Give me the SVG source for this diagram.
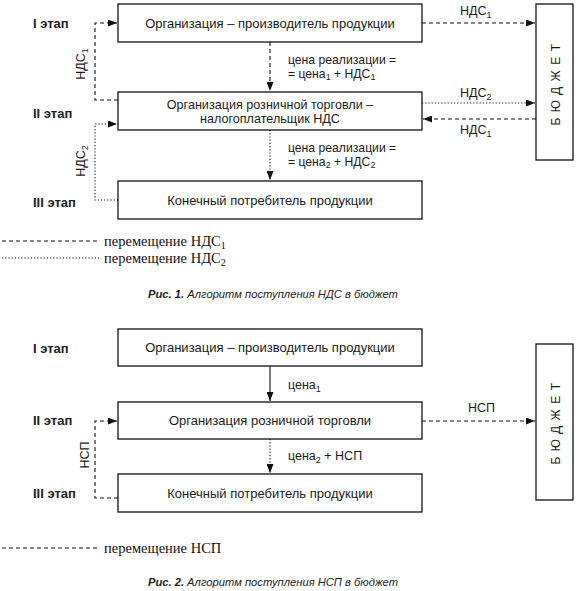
<svg xmlns="http://www.w3.org/2000/svg" width="583" height="591" viewBox="0 0 583 591">
<defs>
<marker id="ah" viewBox="0 0 10 10" refX="10" refY="5" markerWidth="9" markerHeight="7" markerUnits="userSpaceOnUse" orient="auto" preserveAspectRatio="none"><path d="M0,0 L10,5 L0,10 z" fill="#111"/></marker>
</defs>
<style>
.box{fill:#fff;stroke:#111;stroke-width:1.3}
.t{font-family:"Liberation Sans",Arial,sans-serif;font-size:13px;fill:#1a1a1a}
.t2{font-family:"Liberation Sans",Arial,sans-serif;font-size:12.6px;fill:#1a1a1a}
.s{font-family:"Liberation Sans",Arial,sans-serif;font-size:12.5px;fill:#1a1a1a}
.p{font-family:"Liberation Sans",Arial,sans-serif;font-size:12.2px;fill:#1a1a1a}
.st{font-family:"Liberation Sans",Arial,sans-serif;font-size:13px;font-weight:bold;fill:#222}
.lg{font-family:"Liberation Serif","Times New Roman",serif;font-size:14.5px;fill:#111}
.cap{font-family:"Liberation Sans",Arial,sans-serif;font-size:11.2px;font-style:italic;fill:#222}
.c{fill:none;stroke:#111;stroke-width:1.1}
.dash{stroke-dasharray:4 3}
.dot{stroke-dasharray:1.2 2}
.bud{font-family:"Liberation Sans",Arial,sans-serif;font-size:12px;letter-spacing:5.5px;fill:#1a1a1a}
</style>
<rect width="583" height="591" fill="#fff"/>

<!-- Diagram 1 -->
<g id="stages1">
<text class="st" x="33" y="28">I этап</text>
<text class="st" x="33" y="118">II этап</text>
<text class="st" x="33" y="207">III этап</text>
</g>
<g id="d1-producer"><rect class="box" x="118" y="4" width="304" height="38"/><text class="t" x="270" y="28" text-anchor="middle">Организация – производитель продукции</text></g>
<g id="d1-retail"><rect class="box" x="118" y="92" width="304" height="38"/><text class="t2" x="270" y="108.5" text-anchor="middle">Организация розничной торговли –</text><text class="t2" x="270" y="122.8" text-anchor="middle">налогоплательщик НДС</text></g>
<g id="d1-consumer"><rect class="box" x="118" y="181" width="304" height="38"/><text class="t" x="270" y="205" text-anchor="middle">Конечный потребитель продукции</text></g>
<g id="d1-budget"><rect class="box" x="536" y="4" width="37" height="156"/><text class="bud" transform="translate(560,82) rotate(-90)" text-anchor="middle">БЮДЖЕТ</text></g>

<g id="d1-connectors">
<path class="c dash" d="M118,100 H95 V23 H117" marker-end="url(#ah)"/>
<path class="c dot" d="M118,200 H95 V124 H117" marker-end="url(#ah)"/>
<path class="c dash" d="M270,42 V91" marker-end="url(#ah)"/>
<path class="c dot" d="M270,130 V180" marker-end="url(#ah)"/>
<path class="c dash" d="M422,23 H535" marker-end="url(#ah)"/>
<path class="c dot" d="M422,103 H535" marker-end="url(#ah)"/>
<path class="c dash" d="M536,119 H423" marker-end="url(#ah)"/>
</g>
<g id="d1-labels">
<text class="s" transform="translate(85,64) rotate(-90)" text-anchor="middle">НДС<tspan dy="3" font-size="9">1</tspan></text>
<text class="s" transform="translate(85,161) rotate(-90)" text-anchor="middle">НДС<tspan dy="3" font-size="9">2</tspan></text>
<text class="p" x="288" y="63.5">цена реализации =</text>
<text class="p" x="288" y="77.5">= цена<tspan dy="2.5" font-size="9">1</tspan><tspan dy="-2.5"> + НДС</tspan><tspan dy="2.5" font-size="9">1</tspan></text>
<text class="p" x="288" y="151.5">цена реализации =</text>
<text class="p" x="288" y="165.5">= цена<tspan dy="2.5" font-size="9">2</tspan><tspan dy="-2.5"> + НДС</tspan><tspan dy="2.5" font-size="9">2</tspan></text>
<text class="s" x="460" y="15">НДС<tspan dy="3" font-size="9">1</tspan></text>
<text class="s" x="460" y="97">НДС<tspan dy="3" font-size="9">2</tspan></text>
<text class="s" x="460" y="134">НДС<tspan dy="3" font-size="9">1</tspan></text>
</g>
<g id="legend1">
<line class="c dash" x1="2" y1="241" x2="99" y2="241"/>
<text class="lg" x="104" y="246">перемещение НДС<tspan dy="3" font-size="10">1</tspan></text>
<line class="c dot" x1="2" y1="258" x2="99" y2="258"/>
<text class="lg" x="104" y="263">перемещение НДС<tspan dy="3" font-size="10">2</tspan></text>
</g>
<text class="cap" x="273" y="298" text-anchor="middle"><tspan font-weight="bold">Рис. 1.</tspan> Алгоритм поступления НДС в бюджет</text>

<!-- Diagram 2 -->
<g id="stages2">
<text class="st" x="33" y="353">I этап</text>
<text class="st" x="33" y="425">II этап</text>
<text class="st" x="33" y="498">III этап</text>
</g>
<g id="d2-producer"><rect class="box" x="118" y="329" width="304" height="37"/><text class="t" x="270" y="352" text-anchor="middle">Организация – производитель продукции</text></g>
<g id="d2-retail"><rect class="box" x="118" y="402" width="304" height="37"/><text class="t" x="270" y="425" text-anchor="middle">Организация розничной торговли</text></g>
<g id="d2-consumer"><rect class="box" x="118" y="474" width="304" height="38"/><text class="t" x="270" y="498" text-anchor="middle">Конечный потребитель продукции</text></g>
<g id="d2-budget"><rect class="box" x="536" y="344" width="37" height="156"/><text class="bud" transform="translate(560,421) rotate(-90)" text-anchor="middle">БЮДЖЕТ</text></g>

<g id="d2-connectors">
<path class="c" d="M270,366 V401" marker-end="url(#ah)"/>
<path class="c dot" d="M270,439 V473" marker-end="url(#ah)"/>
<path class="c dash" d="M118,498 H95 V421 H117" marker-end="url(#ah)"/>
<path class="c dash" d="M422,421 H535" marker-end="url(#ah)"/>
</g>
<g id="d2-labels">
<text class="s" transform="translate(89,455) rotate(-90)" text-anchor="middle">НСП</text>
<text class="s" x="288" y="389">цена<tspan dy="3" font-size="9">1</tspan></text>
<text class="s" x="288" y="460">цена<tspan dy="3" font-size="9">2</tspan><tspan dy="-3"> + НСП</tspan></text>
<text class="s" x="468" y="412">НСП</text>
</g>
<g id="legend2">
<line class="c dash" x1="2" y1="548" x2="99" y2="548"/>
<text class="lg" x="104" y="553">перемещение НСП</text>
</g>
<text class="cap" x="273" y="586" text-anchor="middle"><tspan font-weight="bold">Рис. 2.</tspan> Алгоритм поступления НСП в бюджет</text>
</svg>
